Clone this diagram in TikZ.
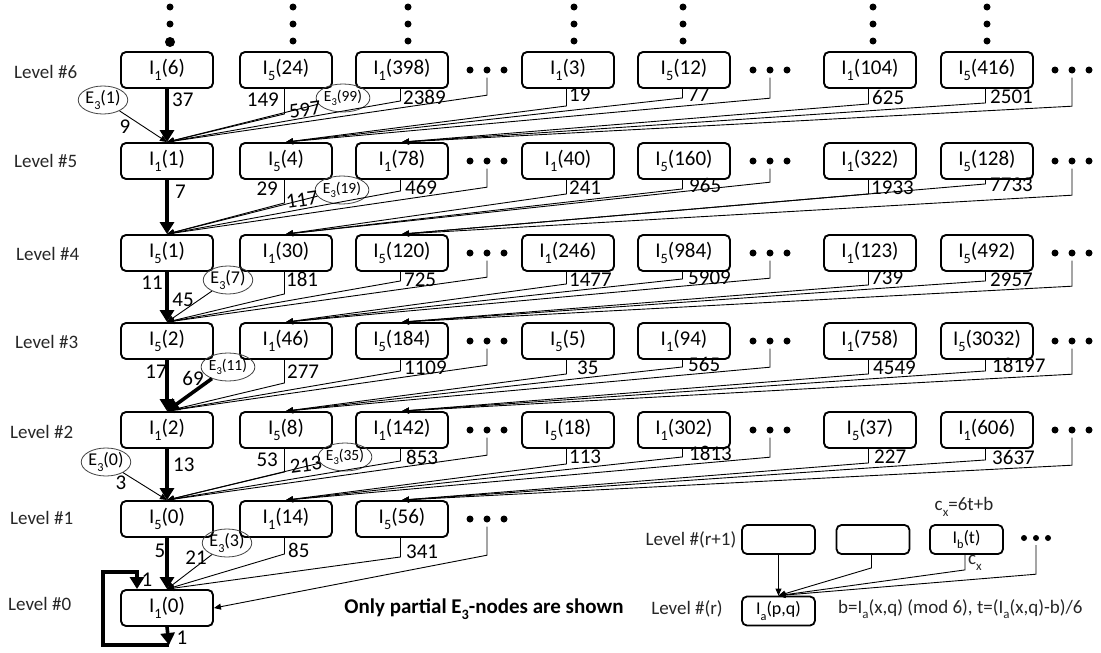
\documentclass[tikz,border=0pt]{standalone}
\usepackage{fontspec}
\setmainfont{Carlito}
\usetikzlibrary{arrows.meta,shapes.geometric}
\makeatletter
\newcommand\lo[1]{\raisebox{-0.3em}{\fontsize{\the\dimexpr 0.68\dimexpr\f@size pt\relax\relax}{0pt}\selectfont #1}}
\makeatother
\tikzset{
  box/.style={draw, line width=1.9pt, rounded corners=5pt, minimum width=92pt, minimum height=36pt, inner sep=0pt, font=\fontsize{21}{24}\selectfont},
  lbox/.style={draw, line width=1.8pt, rounded corners=5pt, minimum width=73pt, minimum height=29pt, inner sep=0pt, font=\fontsize{18}{21}\selectfont},
  eone/.style={draw=black!75, ellipse, line width=0.8pt, minimum width=44pt, minimum height=28pt, inner sep=0pt, font=\fontsize{18}{20}\selectfont},
  etwo/.style={eone, font=\fontsize{15.5}{17}\selectfont},
  num/.style={inner sep=0pt, font=\fontsize{21}{24}\selectfont},
  lev/.style={inner sep=0pt, font=\fontsize{19}{22}\selectfont, text=black!85},
  arr/.style={line width=0.9pt, -{Triangle[length=7pt,width=6pt]}},
  tarr/.style={line width=3.6pt, -{Triangle[length=12pt,width=14pt]}},
  dot/.style={circle, fill, inner sep=0pt, minimum size=7pt},
}
\begin{document}
\begin{tikzpicture}[x=1pt,y=-1pt]
\useasboundingbox (0,0) rectangle (1101,653);
% level labels
\foreach \k/\x/\y in {6/14/72,5/14/161,4/16/254,3/15/342,2/10/432,1/10/518,0/8/604}
  \node[lev, anchor=west] (lv\k) at (\x,\y) {Level \#\k};
% boxes
\foreach \n/\x/\y/\b/\v in {
 A6/167/70/1/6, B6/286/70/5/24, C6/402/70/1/398, D6/568/70/1/3, E6/684/70/5/12, F6/870/70/1/104, G6/987/70/5/416,
 A5/167/161/1/1, B5/286/161/5/4, C5/402/161/1/78, D5/568/161/1/40, E5/684/161/5/160, F5/870/161/1/322, G5/987/161/5/128,
 A4/167/253/5/1, B4/286/253/1/30, C4/402/253/5/120, D4/568/253/1/246, E4/684/253/5/984, F4/870/253/1/123, G4/987/253/5/492,
 A3/167/341/5/2, B3/286/341/1/46, C3/402/341/5/184, D3/568/341/5/5, E3/684/341/1/94, F3/870/341/1/758, G3/987/341/5/3032,
 A2/167/430/1/2, B2/286/430/5/8, C2/402/430/1/142, D2/568/430/5/18, E2/684/430/1/302, F2/870/430/5/37, G2/987/430/1/606,
 A1/167/519/5/0, B1/286/519/1/14, C1/402/519/5/56,
 A0/167/608/1/0}
  \node[box] (\n) at (\x,\y) {I\lo{\b}(\v)};
% horizontal dots
\foreach \n/\x/\y in {p6/487/70, q6/770/70, r6/1072/70, p5/487/161, q5/770/161, r5/1072/161,
  p4/487/253, q4/770/253, r4/1072/253, p3/487/341, q3/770/341, r3/1072/341,
  p2/487/430, q2/770/430, r2/1072/430, p1/487/519}
  {\node[dot] (\n) at (\x,\y) {}; \node[dot] at (\x-17,\y) {}; \node[dot] at (\x+17,\y) {};}
% vertical dots
\foreach \x in {170,293,408,574,683,873,987} {\node[dot] at (\x,7) {}; \node[dot] at (\x,24) {};}
\foreach \x in {293,408,574,683,873,987} \node[dot] at (\x,41) {};
\node[dot, minimum size=10pt] at (170,42) {};
% E3 ellipses
\node[eone] (x1) at (103,100) {E\lo{3}(1)};
\node[etwo] (x99) at (343,98) {E\lo{3}(99)};
\node[etwo] (x19) at (342,190) {E\lo{3}(19)};
\node[eone] (x7) at (228,280) {E\lo{3}(7)};
\node[etwo] (x11) at (228,367) {E\lo{3}(11)};
\node[eone] (x0) at (106,462) {E\lo{3}(0)};
\node[etwo] (x35) at (345,457) {E\lo{3}(35)};
\node[eone] (x3) at (227,543) {E\lo{3}(3)};
% thick main chain
\draw[tarr] (A6.south) -- (A5.north);
\draw[tarr] (A5.south) -- (A4.north);
\draw[tarr] (A4.south) -- (A3.north);
\draw[tarr] (A3.south) -- (A2.north);
\draw[tarr] (A2.south) -- (A1.north);
\draw[tarr] (A1.south) -- (A0.north);
\draw[tarr] (x11) -- (A2.north);
% thin ellipse edges
\draw[arr] (x1) -- (A5.north);
\draw[arr] (x99) -- (A5.north);
\draw[arr] (x19) -- (A4.north);
\draw[arr] (x7) -- (A3.north);
\draw[arr] (x0) -- (A1.north);
\draw[arr] (x35) -- (A1.north);
\draw[arr] (x3) -- (A0.north);
% box stubs
\foreach \s/\l/\t in {B6/25/A5, C6/12/A5, D6/17/B5, E6/9/B5, F6/15/C5, G6/14/C5,
  B5/23/A4, C5/11/A4, D5/14/B4, E5/9/B4, F5/14/C4, G5/4/C4,
  B4/22/A3, C4/9/A3, D4/12/B3, E4/7/B3, F4/13/C3, G4/9/C3,
  B3/23/A2, C3/11/A2, D3/14/B2, E3/7/B2, F3/14/C2, G3/11/C2,
  B2/23/A1, C2/12/A1, D2/15/B1, E2/8/B1, F2/14/C1, G2/11/C1,
  B1/16/A0, C1/19/A0}
  \draw[arr] ([xshift=-1.5pt]\s.south) -- ++(0,\l) -- (\t.north);
% dot stubs
\foreach \s/\l/\t in {p6/17.5/A5, q6/20.5/B5, r6/28.5/C5,
  p5/18.5/A4, q5/13.5/B4, r5/26.5/C4,
  p4/16.5/A3, q4/17.5/B3, r4/25.5/C3,
  p3/16.5/A2, q3/18.5/B2, r3/25.5/C2,
  p2/17.5/A1, q2/19.5/B1, r2/27.5/C1}
  \draw[arr] ([yshift=-4pt]\s.south) -- ++(0,\l) -- (\t.north);
\draw[arr] ([yshift=-4pt]p1.south) -- ++(0,28.5) -- (A0.east);
% self loop
\coordinate (lpa) at (169,645);
\draw[tarr] (A0.south) -- (lpa);
\draw[line width=3.6pt, -{Triangle[length=12pt,width=14pt]}] (lpa) -- (103,645) -- (103,572) -- (137,572) -- ([xshift=-30pt]A0.north);
% labels
\foreach \x/\y/\t in {403/97/2389, 569/95/19, 688/95/77, 872/97/625, 990/97/2501, 172/100/37,
 405/187/469, 569/188/241, 689/185/965, 871/188/1933, 990/185/7733, 175/192/7,
 286/279/181, 404/280/725, 569/280/1477, 688/278/5909, 871/278/739, 990/280/2957,
 287/372/277, 404/368/1109, 577/368/35, 688/364/565, 873/368/4549, 992/365/18197,
 173/465/13, 406/457/853, 569/457/113, 689/453/1813, 874/457/227, 992/457/3637,
 288/550/85, 406/552/341}
  \node[num, anchor=west] at (\x,\y) {\t};
\foreach \x/\y/\t in {279/100/149, 278/189/29, 278/460/53}
  \node[num, anchor=east] at (\x,\y) {\t};
\foreach \x/\y/\t in {125/127/9, 152/283/11, 183/300/45, 156/372/17, 193/378/69, 121/483/3,
 160/551/5, 196/558/21, 147/580/1, 182/638/1}
  \node[num] at (\x,\y) {\t};
\foreach \x/\y/\t in {305/110/597, 302/200/117, 306/465/213}
  \node[num, rotate=8] at (\x,\y) {\t};
% note
\node[inner sep=0pt, font=\fontsize{21}{24}\selectfont\bfseries] (note) at (484,609) {Only partial E\lo{3}-nodes are shown};
% legend
\node[lev] (lr1) at (691,540) {Level \#(r+1)};
\node[lev] (lr) at (687,609) {Level \#(r)};
\node[lbox] (L1) at (778.5,539.5) {};
\node[lbox] (L2) at (873,539.5) {};
\node[lbox] (L3) at (966.5,539.5) {I\lo{b}(t)};
\node[dot, minimum size=6pt] at (1024,538) {};
\node[dot, minimum size=6pt] (Ld) at (1036,538) {};
\node[dot, minimum size=6pt] at (1048,538) {};
\node[lev] (cx) at (964,507) {c\lo{x}=6t+b};
\node[lbox] (La) at (778.5,611) {I\lo{a}(p,q)};
\node[lev, anchor=west] (fm) at (838,609) {b=I\lo{a}(x,q) (mod 6), t=(I\lo{a}(x,q)-b)/6};
\draw[arr] (L1.south) -- (La.north);
\draw[arr] ([xshift=-1.5pt]L2.south) -- ++(0,13) -- (La.north);
\draw[arr] ([xshift=-1.5pt]L3.south) -- ++(0,15) -- (La.north);
\node[lev, anchor=west] at (968,563) {c\lo{x}};
\draw[arr] ([yshift=-4pt]Ld.south) -- ++(0,29) -- (La.north);
\end{tikzpicture}
\end{document}
